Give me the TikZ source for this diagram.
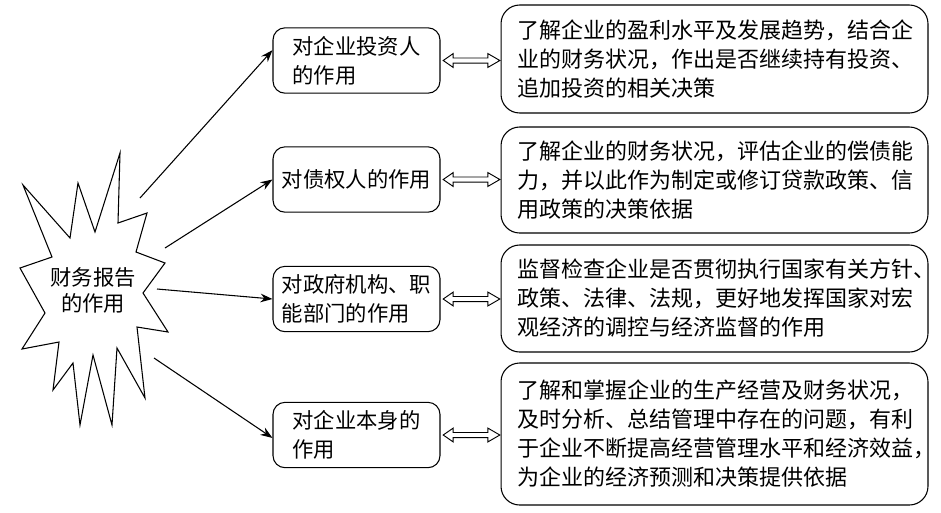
\documentclass[tikz,border=0pt]{standalone}
\usepackage{fontspec}
\setmainfont{Noto Sans CJK SC}
\usetikzlibrary{arrows.meta,calc}
\begin{document}
\begin{tikzpicture}[x=0.75pt,y=-0.75pt,
  lbox/.style={draw,line width=0.8pt,rounded corners=9pt,minimum width=125.25pt,minimum height=49pt,
    align=left,font=\fontsize{16}{21.75}\selectfont,inner sep=0pt},
  rbox/.style={draw,line width=0.8pt,rounded corners=14pt,text width=295pt,inner xsep=12.6pt,inner ysep=0pt,
    align=left,font=\fontsize{16.5}{21.75}\selectfont},
  burstlabel/.style={align=center,font=\fontsize{16}{19.5}\selectfont,inner sep=0pt},
  arr/.style={line width=0.8pt,-{Stealth[length=9pt,width=6.5pt]}},
  dblarrow/.style={line width=0.7pt,to path={let \p1=(\tikztostart),\p2=(\tikztotarget) in
    (\x1+2pt,\y1) -- (\x1+9.5pt,\y1+5.2pt) -- (\x1+9.5pt,\y1+1.9pt) -- (\x2-9.5pt,\y1+1.9pt)
    -- (\x2-9.5pt,\y1+5.2pt) -- (\x2-0.5pt,\y1) -- (\x2-9.5pt,\y1-5.2pt) -- (\x2-9.5pt,\y1-1.9pt)
    -- (\x1+9.5pt,\y1-1.9pt) -- (\x1+9.5pt,\y1-5.2pt) -- cycle}}
]
\useasboundingbox (0,0) rectangle (941,512);

% starburst
\draw[line width=0.8pt,line join=miter] (120,153) -- (118,223) -- (147,213) -- (136,252) -- (165,263)
  -- (143,293) -- (168,332) -- (137,327) -- (145,398) -- (117,348) -- (112,425) -- (93,355)
  -- (80,425) -- (73,363) -- (53,390) -- (59,342) -- (22,349) -- (45,313) -- (20,268)
  -- (52,257) -- (23,185) -- (70,238) -- (78,183) -- (95,232) -- cycle;
\node[burstlabel] (burst) at (93,290) {财务报告\\的作用};

% left boxes
\node[lbox] (L1) at (356.5,60.5) {对企业投资人\\的作用};
\node[lbox] (L2) at (356.5,179.5) {对债权人的作用};
\node[lbox] (L3) at (356.5,299) {对政府机构、职\\能部门的作用};
\node[lbox] (L4) at (356.5,435) {对企业本身的\\作用};

% right boxes
\node[rbox,minimum height=81pt] (R1) at (714.5,59) {了解企业的盈利水平及发展趋势，结合企\\业的财务状况，作出是否继续持有投资、\\追加投资的相关决策};
\node[rbox,minimum height=79.5pt] (R2) at (714.5,180) {了解企业的财务状况，评估企业的偿债能\\力，并以此作为制定或修订贷款政策、信\\用政策的决策依据};
\node[rbox,minimum height=80.25pt] (R3) at (714.5,298.5) {监督检查企业是否贯彻执行国家有关方针、\\政策、法律、法规，更好地发挥国家对宏\\观经济的调控与经济监督的作用};
\node[rbox,minimum height=106.5pt] (R4) at (714.5,434) {了解和掌握企业的生产经营及财务状况，\\及时分析、总结管理中存在的问题，有利\\于企业不断提高经营管理水平和经济效益，\\为企业的经济预测和决策提供依据};

% arrow starts
\coordinate (s1) at (140,198);
\coordinate (s2) at (165,248);
\coordinate (s3) at (157,289);
\coordinate (s4) at (154,358);

\draw[arr] (s1) -- (L1.173);
\draw[arr] (s2) -- (L2.west);
\draw[arr] (s3) -- (L3.west);
\draw[arr] (s4) -- (L4.182);

% double arrows
\draw[dblarrow] (L1.east) to (R1.west);
\draw[dblarrow] (L2.east) to (R2.west);
\draw[dblarrow] (L3.east) to (R3.west);
\draw[dblarrow] (L4.east) to (R4.west);
\end{tikzpicture}
\end{document}
